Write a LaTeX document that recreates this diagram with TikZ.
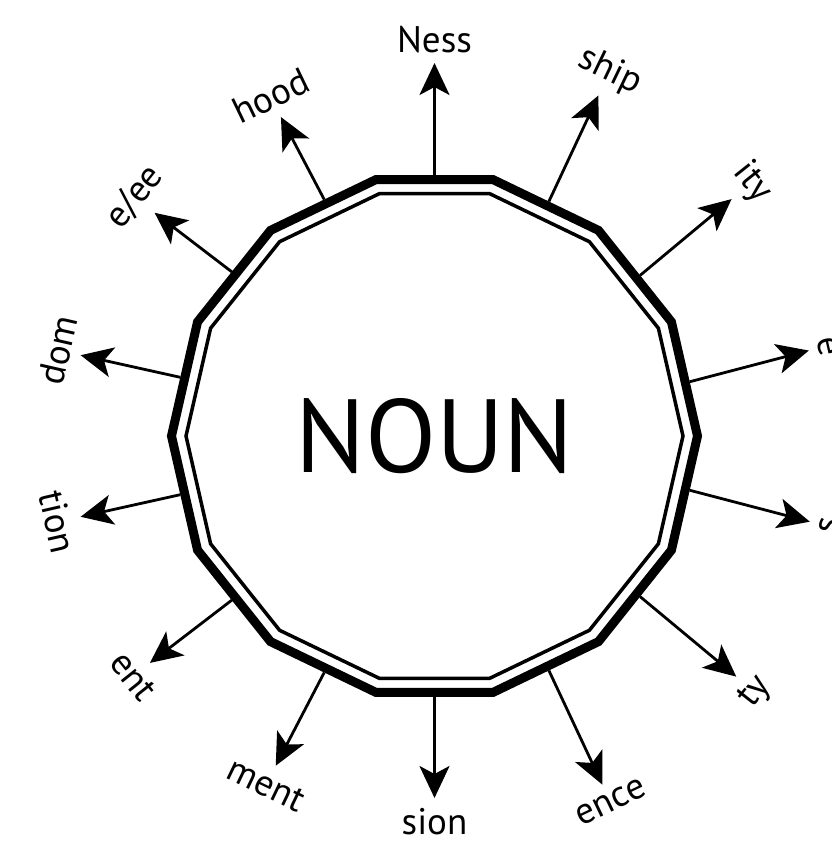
\documentclass[tikz,border=0pt]{standalone}
\usepackage{fontspec}
\setmainfont{PT Sans}
\usetikzlibrary{arrows.meta,shapes.geometric}

\begin{document}
\begin{tikzpicture}[
    x=1pt, y=1pt,
    poly/.style={draw, regular polygon, regular polygon sides=14, inner sep=0pt},
    arrow/.style={-{Stealth[length=32pt, width=30pt, inset=8pt]}, line width=2.8pt},
    suffix/.style={font=\fontsize{37}{40}\selectfont, inner sep=10pt, outer sep=0pt}
]
\path[use as bounding box, clip] (-434.5,-416) rectangle (396.5,436);
\node[poly, line width=9pt, minimum size=526pt, font=\fontsize{104}{110}\selectfont] (noun) {NOUN};
\node[poly, line width=3.5pt, minimum size=497pt] (ring) at (noun.center) {};
% suffixes, upper half
\node[suffix, anchor=south] (ness) at (90:373) {Ness};
\node[suffix, rotate=-25.71, anchor=south] (ship) at (64.29:378) {ship};
\node[suffix, rotate=-51.43, anchor=south] (ity) at (38.57:380) {ity};
\node[suffix, rotate=-77.14, anchor=south] (e) at (12.86:384) {e};
\node[suffix, rotate=77.14, anchor=south] (dom) at (167.14:363) {dom};
\node[suffix, rotate=51.43, anchor=south] (ee) at (141.43:358) {e/ee};
\node[suffix, rotate=25.71, anchor=south] (hood) at (115.71:354) {hood};
% suffixes, lower half
\node[suffix, rotate=77.14, anchor=north] (s) at (-12.86:385) {s};
\node[suffix, rotate=51.43, anchor=north] (ty) at (-38.57:386) {ty};
\node[suffix, rotate=25.71, anchor=north] (ence) at (-64.29:387) {ence};
\node[suffix, anchor=north] (sion) at (-90:362) {sion};
\node[suffix, rotate=-25.71, anchor=north] (ment) at (-115.71:366) {ment};
\node[suffix, rotate=-51.43, anchor=north] (ent) at (-141.43:364) {ent};
\node[suffix, rotate=-77.14, anchor=north] (tion) at (-167.14:363) {tion};
\draw[arrow] (noun.90) -- (ness.south);
\draw[arrow] (noun.64.29) -- (ship.south);
\draw[arrow] (noun.38.57) -- (ity.south);
\draw[arrow] (noun.12.86) -- (e.south);
\draw[arrow] (noun.167.14) -- (dom.south);
\draw[arrow] (noun.141.43) -- (ee.south);
\draw[arrow] (noun.115.71) -- (hood.south);
\draw[arrow] (noun.-12.86) -- (s.north);
\draw[arrow] (noun.-38.57) -- (ty.north);
\draw[arrow] (noun.-64.29) -- (ence.north);
\draw[arrow] (noun.-90) -- (sion.north);
\draw[arrow] (noun.-115.71) -- (ment.north);
\draw[arrow] (noun.-141.43) -- (ent.north);
\draw[arrow] (noun.-167.14) -- (tion.north);
\end{tikzpicture}
\end{document}
